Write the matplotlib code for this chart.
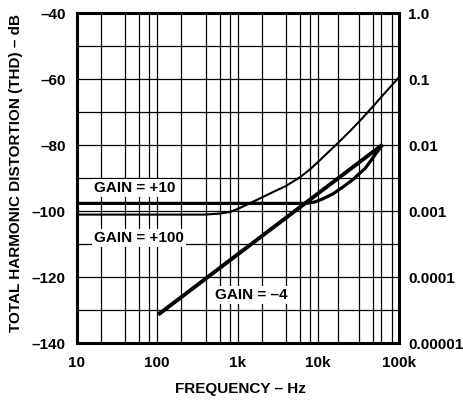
import matplotlib
matplotlib.use("Agg")
import matplotlib.pyplot as plt
from matplotlib.ticker import FixedLocator, NullFormatter

plt.rcParams['font.family'] = ['Liberation Sans', 'DejaVu Sans']
plt.rcParams['font.weight'] = 'bold'

# ---- data ----
x_ticks = [10, 100, 1000, 10000, 100000]
x_tick_labels = ['10', '100', '1k', '10k', '100k']
x_minor_grid = [20, 40, 60, 80, 200, 400, 600, 800, 2000, 4000, 6000, 8000,
                17500, 32000, 48000, 61000, 83000]
y_ticks = [-40, -50, -60, -70, -80, -90, -100, -110, -120, -130, -140]
y_label_ticks = [-40, -60, -80, -100, -120, -140]
y_tick_labels = ['–40', '–60', '–80', '–100', '–120', '–140']
right_tick_labels = ['1.0', '0.1', '0.01', '0.001', '0.0001', '0.00001']

gain10_freq = [10, 100, 1000, 5000, 7000, 9000, 11000, 15300, 20100, 26600, 38300, 50400, 63000]
gain10_thd = [-97.6, -97.6, -97.6, -97.6, -97.6, -97.2, -96.4, -94.7, -92.7, -90.5, -87.0, -83.0, -79.8]

gain100_freq = [10, 100, 380, 600, 800, 1000, 1460, 2000, 2840, 4000, 6000, 8000, 10000,
                12800, 17600, 25300, 34700, 46800, 60000, 100000]
gain100_thd = [-101.0, -101.0, -101.0, -100.7, -100.2, -99.3, -97.4, -95.8, -94.0, -92.3,
               -89.6, -87.2, -85.0, -82.5, -79.3, -75.5, -72.0, -68.5, -65.5, -59.5]

gainm4_freq = [103, 63000]
gainm4_thd = [-131.3, -79.8]

# ---- figure ----
fig = plt.figure(figsize=(4.63, 4.0), dpi=100)
ax = fig.add_axes([76.7 / 463, 1 - 343.3 / 400, (398.7 - 76.7) / 463, (343.3 - 13.3) / 400])
ax.set_xscale('log')
ax.set_xlim(10, 100000)
ax.set_ylim(-140, -40)

ax.xaxis.set_major_locator(FixedLocator(x_ticks))
ax.set_xticklabels(x_tick_labels)
ax.xaxis.set_minor_locator(FixedLocator(x_minor_grid))
ax.xaxis.set_minor_formatter(NullFormatter())
ax.yaxis.set_major_locator(FixedLocator(y_ticks))
ax.set_yticklabels([y_tick_labels[y_label_ticks.index(t)] if t in y_label_ticks else '' for t in y_ticks])

ax.grid(True, which='both', color='black', linewidth=0.9)
ax.set_axisbelow(True)
ax.tick_params(which='both', length=0, labelsize=11)
ax.tick_params(axis='x', pad=9)
ax.tick_params(axis='y', pad=8)
for s in ax.spines.values():
    s.set_linewidth(2.2)

ax.plot(gain10_freq, gain10_thd, color='black', linewidth=2.3, zorder=4, solid_capstyle='butt')
ax.plot(gain100_freq, gain100_thd, color='black', linewidth=1.5, zorder=4)
ax.plot(gainm4_freq, gainm4_thd, color='black', linewidth=2.8, zorder=4, solid_capstyle='butt')

box = dict(facecolor='white', edgecolor='none', pad=1.5)
ax.text(16.3, -93, 'GAIN = +10', fontsize=11, fontweight='bold', va='center', ha='left', bbox=box, zorder=3)
ax.text(16.3, -108, 'GAIN = +100', fontsize=11, fontweight='bold', va='center', ha='left', bbox=box, zorder=3)
ax.text(525, -125.3, 'GAIN = –4', fontsize=11, fontweight='bold', va='center', ha='left', bbox=box, zorder=3)

ax2 = ax.twinx()
ax2.set_ylim(-140, -40)
ax2.yaxis.set_major_locator(FixedLocator(y_label_ticks))
ax2.set_yticklabels(right_tick_labels)
ax2.tick_params(length=0, labelsize=11, pad=7)
for s in ax2.spines.values():
    s.set_visible(False)

fig.text(16 / 463, 1 - 173 / 400, 'TOTAL HARMONIC DISTORTION (THD) – dB', rotation=90,
         fontsize=11, fontweight='bold', ha='center', va='center')
fig.text(240 / 463, 1 - 389 / 400, 'FREQUENCY – Hz', fontsize=11, fontweight='bold',
         ha='center', va='center')

fig.savefig('out.png', dpi=100)
